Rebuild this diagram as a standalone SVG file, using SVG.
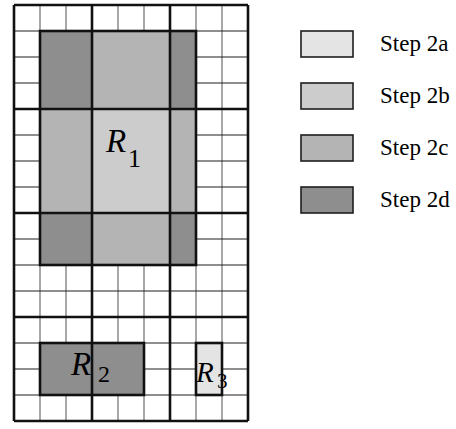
<svg xmlns="http://www.w3.org/2000/svg" width="456" height="429" viewBox="0 0 456 429">
<style>
.thinv{stroke:#7a7a7a;stroke-width:1.3;fill:none}
.thinh{stroke:#1e1e1e;stroke-width:1.1;fill:none}
.thick{stroke:#111;stroke-width:2.6;fill:none}
.a{fill:#e4e4e4}.b{fill:#cccccc}.c{fill:#b4b4b4}.d{fill:#8e8e8e}
.bd{fill:none;stroke:#111;stroke-width:2.6}
.lg{stroke:#1e1e1e;stroke-width:1.6}
</style>
<rect x="0" y="0" width="456" height="429" fill="#fff"/>
<g id="grid">
<path class="thinv" d="M40,5V421M66,5V421M118,5V421M144,5V421M196,5V421M222,5V421"/>
<path class="thinh" d="M14,31H248M14,57H248M14,83H248M14,135H248M14,161H248M14,187H248M14,239H248M14,265H248M14,291H248M14,343H248M14,369H248M14,395H248"/>
</g>
<g id="R1">
<rect class="d" x="40" y="31" width="52" height="78"/>
<rect class="c" x="92" y="31" width="78" height="78"/>
<rect class="d" x="170" y="31" width="26" height="78"/>
<rect class="c" x="40" y="109" width="52" height="104"/>
<rect class="b" x="92" y="109" width="78" height="104"/>
<rect class="c" x="170" y="109" width="26" height="104"/>
<rect class="d" x="40" y="213" width="52" height="52"/>
<rect class="c" x="92" y="213" width="78" height="52"/>
<rect class="d" x="170" y="213" width="26" height="52"/>
</g>
<g id="R2"><rect class="d" x="40" y="343" width="104" height="52"/></g>
<g id="R3"><rect class="a" x="196" y="343" width="26" height="52"/></g>
<g id="thickgrid">
<path class="thick" d="M14,5V421M92,5V421M170,5V421M248,5V421M14,5H248M14,109H248M14,213H248M14,317H248M14,421H248"/>
</g>
<g id="borders">
<rect class="bd" x="40" y="31" width="156" height="234"/>
<rect class="bd" x="40" y="343" width="104" height="52"/>
<rect class="bd" x="196" y="343" width="26" height="52"/>
</g>
<g id="labels" font-family="Liberation Serif, Times New Roman, serif" fill="#000">
<text x="106" y="152" font-size="33" font-style="italic">R</text><text x="128" y="167" font-size="26">1</text>
<text x="71" y="375" font-size="33" font-style="italic">R</text><text x="98" y="382" font-size="24">2</text>
<text x="196" y="382" font-size="29" font-style="italic">R</text><text x="217" y="388" font-size="21">3</text>
</g>
<g id="legend" font-family="Liberation Serif, Times New Roman, serif" font-size="23" fill="#000">
<g id="legend-2a"><rect class="a lg" x="301" y="31" width="52" height="26"/><text x="380" y="51">Step 2a</text></g>
<g id="legend-2b"><rect class="b lg" x="301" y="83" width="52" height="26"/><text x="380" y="103">Step 2b</text></g>
<g id="legend-2c"><rect class="c lg" x="301" y="135" width="52" height="26"/><text x="380" y="155">Step 2c</text></g>
<g id="legend-2d"><rect class="d lg" x="301" y="187" width="52" height="26"/><text x="380" y="207">Step 2d</text></g>
</g>
</svg>
